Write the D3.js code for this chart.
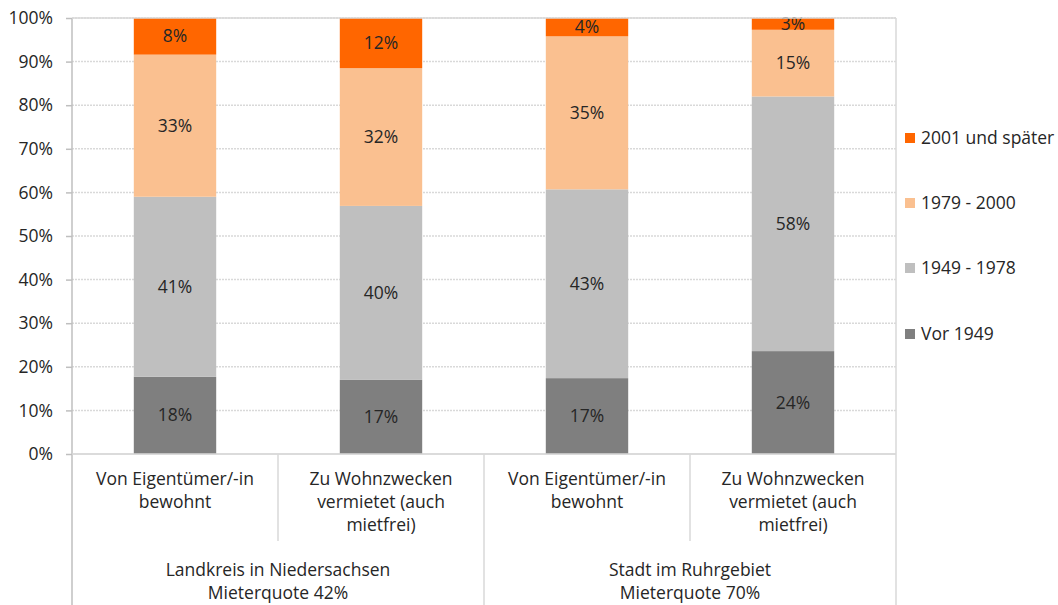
<!DOCTYPE html>
<html>
<head>
<meta charset="utf-8">
<script src="https://cdn.jsdelivr.net/npm/d3@7"></script>
<style>
  body { margin: 0; background: white; }
  text { font-family: "Open Sans", Lato, sans-serif; fill: #262626; }
</style>
</head>
<body>
<div id="chart"></div>
<script>
// data (shares in %)
const categories = ["Von Eigentümer/-in|bewohnt", "Zu Wohnzwecken|vermietet (auch|mietfrei)",
                    "Von Eigentümer/-in|bewohnt", "Zu Wohnzwecken|vermietet (auch|mietfrei)"];
const groups = ["Landkreis in Niedersachsen|Mieterquote 42%", "Stadt im Ruhrgebiet|Mieterquote 70%"];
const seriesNames = ["Vor 1949", "1949 - 1978", "1979 - 2000", "2001 und später"];
const vor1949 = [17.7, 17.0, 17.4, 23.6];
const bis1978 = [41.3, 39.9, 43.3, 58.4];
const bis2000 = [32.6, 31.6, 35.1, 15.3];
const ab2001 = [8.4, 11.5, 4.2, 2.7];
const yTicks = [0, 10, 20, 30, 40, 50, 60, 70, 80, 90, 100];
const colors = ["#7f7f7f", "#bfbfbf", "#fac090", "#ff6600"];

const w = 1058, h = 605;
const padLeft = 72, padRight = 896, padTop = 18, padBottom = 454;
const fontSize = "17.5px";

const table = categories.map((c, i) => ({
  idx: i,
  "Vor 1949": vor1949[i], "1949 - 1978": bis1978[i],
  "1979 - 2000": bis2000[i], "2001 und später": ab2001[i]
}));
const stacked = d3.stack().keys(seriesNames)(table);

const x = d3.scaleBand().domain(d3.range(categories.length)).range([padLeft, padRight]).paddingInner(0.6).paddingOuter(0.3);
const y = d3.scaleLinear().domain([0, 100]).range([padBottom, padTop]);
const step = (padRight - padLeft) / categories.length;

const svg = d3.select("#chart").append("svg").attr("width", w).attr("height", h);

// gridlines
svg.append("g")
  .selectAll("line")
  .data(yTicks)
  .enter()
  .append("line")
  .attr("x1", padLeft).attr("x2", padRight)
  .attr("y1", d => y(d)).attr("y2", d => y(d))
  .attr("stroke", "#d9d9d9").attr("stroke-width", 1.5)
  .attr("stroke-dasharray", d => d === 0 ? null : "2,1");

// y axis
const yAxis = d3.axisLeft(y).tickValues(yTicks).tickFormat(d => d + "%").tickSize(6).tickPadding(13);
const gy = svg.append("g").attr("transform", "translate(" + padLeft + ",0)").call(yAxis);
gy.select(".domain").remove();
gy.selectAll(".tick line").attr("stroke", "#bfbfbf").attr("stroke-width", 1.5);
gy.selectAll(".tick text").style("font-size", fontSize).style("font-family", "'Open Sans', sans-serif").attr("fill", "#262626");

// bars
const layer = svg.append("g")
  .selectAll("g")
  .data(stacked)
  .enter()
  .append("g")
  .attr("fill", (d, i) => colors[i]);

layer.selectAll("rect")
  .data(d => d)
  .enter()
  .append("rect")
  .attr("x", d => x(d.data.idx))
  .attr("y", d => y(d[1]))
  .attr("width", x.bandwidth())
  .attr("height", d => y(d[0]) - y(d[1]));

layer.selectAll("text")
  .data(d => d)
  .enter()
  .append("text")
  .attr("x", d => x(d.data.idx) + x.bandwidth() / 2)
  .attr("y", d => (y(d[0]) + y(d[1])) / 2 + 6)
  .attr("text-anchor", "middle")
  .style("font-size", fontSize)
  .text(d => Math.round(d[1] - d[0]) + "%");

// axis lines
svg.append("line").attr("x1", padLeft).attr("x2", padLeft).attr("y1", padTop).attr("y2", h)
  .attr("stroke", "#bfbfbf").attr("stroke-width", 1.5);
svg.append("line").attr("x1", padRight).attr("x2", padRight).attr("y1", padTop).attr("y2", h)
  .attr("stroke", "#d9d9d9").attr("stroke-width", 1.5);
svg.append("line").attr("x1", padLeft).attr("x2", padRight).attr("y1", padBottom).attr("y2", padBottom)
  .attr("stroke", "#d9d9d9").attr("stroke-width", 1.5);
svg.append("line").attr("x1", padLeft).attr("x2", padRight).attr("y1", padTop).attr("y2", padTop)
  .attr("stroke", "#d9d9d9").attr("stroke-width", 1.5);

// category separators
for (let i = 1; i < categories.length; i++) {
  svg.append("line")
    .attr("x1", padLeft + i * step).attr("x2", padLeft + i * step)
    .attr("y1", padBottom).attr("y2", i % 2 === 0 ? h : 541)
    .attr("stroke", "#d9d9d9").attr("stroke-width", 1.5);
}

// category labels
categories.forEach((c, i) => {
  const t = svg.append("text")
    .attr("x", x(i) + x.bandwidth() / 2)
    .attr("y", 485)
    .attr("text-anchor", "middle")
    .style("font-size", fontSize);
  c.split("|").forEach((line, j) => {
    t.append("tspan").attr("x", x(i) + x.bandwidth() / 2).attr("dy", j === 0 ? 0 : 23).text(line);
  });
});

// group labels
groups.forEach((g, i) => {
  const cx = padLeft + (i * 2 + 1) * step;
  const t = svg.append("text")
    .attr("x", cx).attr("y", 576)
    .attr("text-anchor", "middle")
    .style("font-size", fontSize);
  g.split("|").forEach((line, j) => {
    t.append("tspan").attr("x", cx).attr("dy", j === 0 ? 0 : 23).text(line);
  });
});

// legend
const legendY = [334, 268, 203, 138];
seriesNames.forEach((s, i) => {
  svg.append("rect")
    .attr("x", 905).attr("y", legendY[i] - 5)
    .attr("width", 10).attr("height", 10)
    .attr("fill", colors[i]);
  svg.append("text")
    .attr("x", 921).attr("y", legendY[i] + 6)
    .style("font-size", fontSize)
    .text(s);
});
</script>
</body>
</html>
